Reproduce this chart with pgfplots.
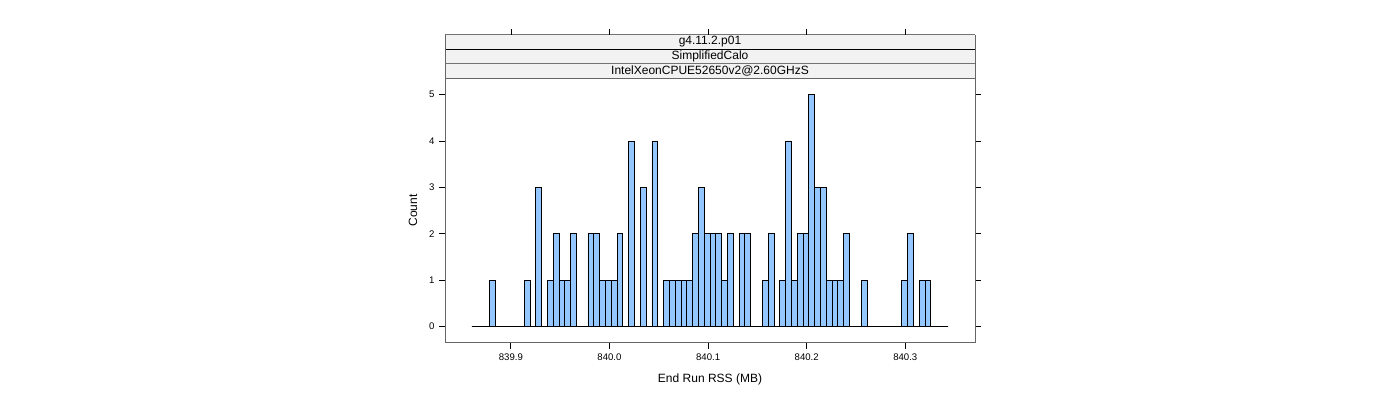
\documentclass[border=0pt]{standalone}
\usepackage{fontspec}
\setmainfont{Liberation Sans}
\usepackage{pgfplots}
\pgfplotsset{compat=1.18}
\definecolor{barblue}{RGB}{148,199,255}
\definecolor{stripgray}{RGB}{242,242,242}
\begin{document}
\begin{tikzpicture}
\useasboundingbox (0pt,0pt) rectangle (1400pt,400pt);
% strips
\fill[stripgray] (445pt,321.7pt) rectangle (975pt,365.3pt);
\draw[black!55, line width=1pt] (445pt,365.3pt) -- (975pt,365.3pt);
\draw[black, line width=1pt] (445pt,350.7pt) -- (975pt,350.7pt);
\draw[black!55, line width=1pt] (445pt,336.3pt) -- (975pt,336.3pt);
\draw[black, line width=1pt] (445pt,321.7pt) -- (975pt,321.7pt);
\draw[black!60, line width=1pt] (445pt,321.7pt) -- (445pt,365.3pt);
\draw[black!60, line width=1pt] (975pt,321.7pt) -- (975pt,365.3pt);
\foreach \tx in {510.9,609.5,708.1,806.7,905.3}
  \draw[black, line width=0.8pt] (\tx pt,365.3pt) -- (\tx pt,371.3pt);
\node[font=\fontsize{12}{12}\selectfont, inner sep=0pt] at (710pt,358pt) {g4.11.2.p01};
\node[font=\fontsize{12}{12}\selectfont, inner sep=0pt] at (710pt,343.5pt) {SimplifiedCalo};
\node[font=\fontsize{12}{12}\selectfont, inner sep=0pt] at (710pt,329pt) {IntelXeonCPUE52650v2@2.60GHzS};
\begin{axis}[
  at={(445pt,57.3pt)}, anchor=south west,
  scale only axis, width=530pt, height=264.4pt,
  xmin=839.8332, xmax=840.3707, ymin=-0.35, ymax=5.35,
  xtick={839.9,840.0,840.1,840.2,840.3},
  xticklabels={839.9,840.0,840.1,840.2,840.3},
  ytick={0,1,2,3,4,5},
  scaled x ticks=false,
  xtick pos=left, ytick pos=both, yticklabel pos=left,
  tick align=outside, major tick length=6pt,
  tick style={black, line width=0.8pt},
  axis line style={black!60, line width=1pt},
  /pgf/number format/assume math mode=true,
  tick label style={font=\fontsize{9.6}{10}\selectfont},
  xticklabel style={yshift=-2pt},
  yticklabel style={xshift=-1pt},
  xlabel={End Run RSS (MB)}, ylabel={Count},
  label style={font=\fontsize{12}{12}\selectfont},
  xlabel style={at={(axis description cs:0.5,-0.137)}, anchor=center},
  ylabel style={at={(axis description cs:-0.0604,0.5)}, anchor=center},
]
\addplot[ybar interval, fill=barblue, draw=black, line width=0.8pt] coordinates {
(839.8604,0) (839.8663,0) (839.8722,0) (839.8781,1) (839.8840,0)
(839.8899,0) (839.8958,0) (839.9016,0) (839.9075,0) (839.9134,1)
(839.9193,0) (839.9252,3) (839.9311,0) (839.9370,1) (839.9429,2)
(839.9488,1) (839.9547,1) (839.9606,2) (839.9665,0) (839.9723,0)
(839.9782,2) (839.9841,2) (839.9900,1) (839.9959,1) (840.0018,1)
(840.0077,2) (840.0136,0) (840.0195,4) (840.0254,0) (840.0313,3)
(840.0372,0) (840.0431,4) (840.0489,0) (840.0548,1) (840.0607,1)
(840.0666,1) (840.0725,1) (840.0784,1) (840.0843,2) (840.0902,3)
(840.0961,2) (840.1020,2) (840.1079,2) (840.1138,1) (840.1196,2)
(840.1255,0) (840.1314,2) (840.1373,2) (840.1432,0) (840.1491,0)
(840.1550,1) (840.1609,2) (840.1668,0) (840.1727,1) (840.1786,4)
(840.1845,1) (840.1904,2) (840.1962,2) (840.2021,5) (840.2080,3)
(840.2139,3) (840.2198,1) (840.2257,1) (840.2316,1) (840.2375,2)
(840.2434,0) (840.2493,0) (840.2552,1) (840.2611,0) (840.2669,0)
(840.2728,0) (840.2787,0) (840.2846,0) (840.2905,0) (840.2964,1)
(840.3023,2) (840.3082,0) (840.3141,1) (840.3200,1) (840.3259,0)
(840.3318,0) (840.3377,0) (840.3435,0)
};
\end{axis}
\end{tikzpicture}
\end{document}
